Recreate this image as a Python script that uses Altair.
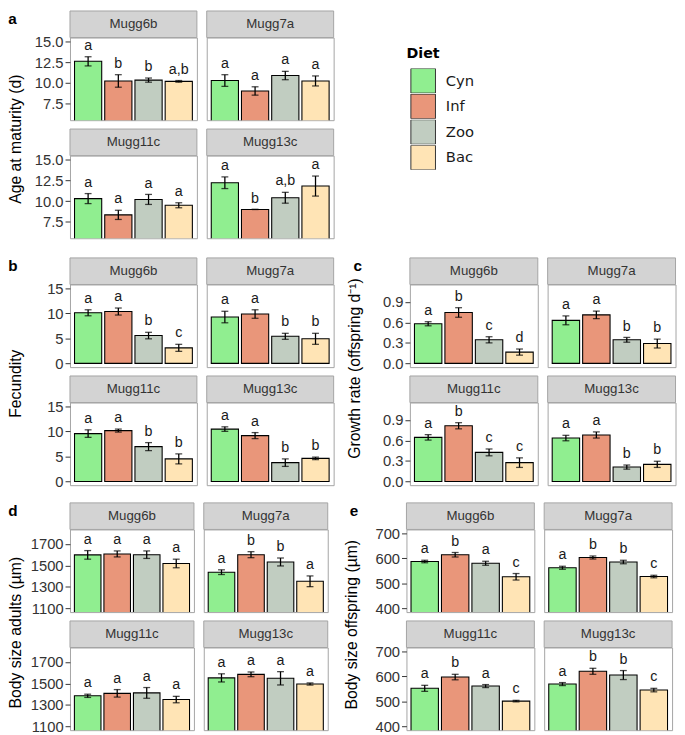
import altair as alt
import pandas as pd

STRAINS = ["Mugg6b", "Mugg7a", "Mugg11c", "Mugg13c"]
DIETS = ["Cyn", "Inf", "Zoo", "Bac"]
COLORS = ["#90EE90", "#E9967A", "#C1CDC1", "#FFE4B5"]

# a: Age at maturity (d)
age_mean = [[12.6, 10.25, 10.35, 10.2], [10.3, 9.05, 10.9, 10.25],
            [10.3, 8.35, 10.2, 9.5], [12.2, 9.0, 10.4, 11.8]]
age_se = [[0.55, 0.75, 0.25, 0.1], [0.7, 0.5, 0.5, 0.6],
          [0.6, 0.55, 0.6, 0.3], [0.7, 0.0, 0.65, 1.2]]
age_let = [["a", "b", "b", "a,b"], ["a", "a", "a", "a"],
           ["a", "a", "a", "a"], ["a", "b", "a,b", "a"]]

# b: Fecundity
fec_mean = [[10.1, 10.35, 5.55, 3.1], [9.25, 9.85, 5.4, 4.9],
            [9.55, 10.15, 6.95, 4.5], [10.45, 9.15, 3.75, 4.6]]
fec_se = [[0.6, 0.7, 0.65, 0.7], [1.15, 0.85, 0.6, 1.1],
          [0.75, 0.3, 0.8, 1.0], [0.45, 0.6, 0.75, 0.25]]
fec_let = [["a", "a", "b", "c"], ["a", "a", "b", "b"],
           ["a", "a", "b", "b"], ["a", "a", "b", "b"]]

# c: Growth rate
gr_mean = [[0.58, 0.745, 0.345, 0.165], [0.63, 0.71, 0.345, 0.29],
           [0.645, 0.815, 0.425, 0.275], [0.635, 0.68, 0.21, 0.25]]
gr_se = [[0.03, 0.07, 0.045, 0.045], [0.065, 0.055, 0.035, 0.065],
         [0.04, 0.045, 0.05, 0.07], [0.04, 0.045, 0.03, 0.045]]
gr_let = [["a", "b", "c", "d"], ["a", "a", "b", "b"],
          ["a", "b", "c", "c"], ["a", "a", "b", "b"]]

# d: Body size adults
ad_mean = [[1598, 1607, 1600, 1518], [1437, 1600, 1532, 1352],
           [1385, 1408, 1412, 1350], [1552, 1585, 1548, 1495]]
ad_se = [[40, 28, 35, 40], [22, 28, 37, 50],
         [15, 35, 50, 30], [38, 22, 62, 10]]
ad_let = [["a", "a", "a", "a"], ["a", "b", "b", "a"],
          ["a", "a", "a", "a"], ["a", "a", "a", "a"]]

# e: Body size offspring
off_mean = [[587, 614, 580, 526], [562, 603, 585, 527],
            [552, 597, 561, 501], [569, 620, 605, 545]]
off_se = [[5, 9, 8, 13], [6, 6, 7, 5],
          [12, 11, 6, 3], [6, 12, 18, 7]]
off_let = [["a", "b", "a", "c"], ["a", "b", "b", "c"],
           ["a", "b", "a", "c"], ["a", "b", "b", "c"]]

FONT = "Liberation Sans"
STRIP_FILL = "#d3d3d3"
BORDER = "#a3a3a3"
S = 27      # strip height
H = 84      # plot height
GAP = 9     # gap between facet rows

color_enc = alt.Color(
    "diet:N",
    scale=alt.Scale(domain=DIETS, range=COLORS),
    sort=DIETS,
    legend=alt.Legend(
        title="Diet", orient="none", legendX=342, legendY=10,
        titleFont="DejaVu Sans", titleFontSize=14.5, titleFontWeight="bold",
        titleColor="black", titlePadding=7,
        labelFont="DejaVu Sans", labelFontSize=15, labelColor="#1a1a1a",
        labelOffset=10, symbolType="square", symbolSize=625,
        symbolStrokeColor="#333333", symbolStrokeWidth=1, symbolOffset=4,
        rowPadding=1, clipHeight=25,
    ),
)


def make_df(means, ses, lets):
    rows = []
    for si, s in enumerate(STRAINS):
        for di, d in enumerate(DIETS):
            m = means[si][di]
            e = ses[si][di]
            rows.append({"strain": s, "diet": d, "mean": m,
                         "lo": m - e, "hi": m + e, "letter": lets[si][di]})
    return pd.DataFrame(rows)


def subplot(df, strain, domain, ticks, fmt, W, show_axis):
    d = df[df.strain == strain]
    base = alt.Chart(d)
    x = alt.X("diet:N", sort=DIETS,
              scale=alt.Scale(domain=DIETS, paddingInner=0.1, paddingOuter=0.15),
              axis=None)
    ysc = alt.Scale(domain=domain, nice=False, zero=False)
    if show_axis:
        yax = alt.Axis(values=ticks, format=fmt, title=None, domain=False,
                       grid=False, labelFont=FONT, labelFontSize=15,
                       labelColor="#333333", tickColor="#333333", tickSize=5,
                       tickWidth=1, labelPadding=2)
    else:
        yax = None

    def Y(f):
        return alt.Y(f, type="quantitative", scale=ysc, axis=yax)

    bars = base.mark_bar(stroke="black", strokeWidth=1.1, clip=True).encode(
        x=x, y=Y("mean"), color=color_enc)
    rule = base.mark_rule(color="black", strokeWidth=1.3).encode(
        x=x, y=Y("lo"), y2=alt.Y2("hi"))
    cap_lo = base.mark_tick(color="black", thickness=1.3, size=7).encode(x=x, y=Y("lo"))
    cap_hi = base.mark_tick(color="black", thickness=1.3, size=7).encode(x=x, y=Y("hi"))
    txt = base.mark_text(baseline="bottom", dy=-4, fontSize=14.5, font=FONT,
                         color="#1a1a1a").encode(x=x, y=Y("hi"), text="letter:N")
    sdf = pd.DataFrame({"strain": [strain]})
    strip_bg = alt.Chart(sdf).mark_rect(fill=STRIP_FILL, stroke=BORDER, strokeWidth=1).encode(
        x=alt.value(0), x2=alt.value(W), y=alt.value(-S), y2=alt.value(0))
    strip_tx = alt.Chart(sdf).mark_text(fontSize=13.5, font=FONT, color="#333333",
                                        fontWeight="normal",
                                        baseline="middle", align="center").encode(
        x=alt.value(W / 2), y=alt.value(-S / 2), text="strain:N")
    return alt.layer(bars, rule, cap_lo, cap_hi, txt, strip_bg, strip_tx).properties(
        width=W, height=H)


def panel(letter, ytitle, df, domain, ticks, fmt, W, toff, tdx, ldx):
    colL = alt.vconcat(
        subplot(df, "Mugg6b", domain, ticks, fmt, W, True),
        subplot(df, "Mugg11c", domain, ticks, fmt, W, True),
        spacing=S + GAP, bounds="flush")
    colR = alt.vconcat(
        subplot(df, "Mugg7a", domain, ticks, fmt, W, False),
        subplot(df, "Mugg13c", domain, ticks, fmt, W, False),
        spacing=S + GAP, bounds="flush")
    inner = alt.hconcat(
        colL, colR, spacing=8,
        title=alt.TitleParams(ytitle, orient="left", anchor="middle", angle=270,
                              offset=toff, dx=tdx, fontSize=16, font=FONT,
                              fontWeight="normal", color="black"))
    outer = alt.vconcat(
        inner,
        title=alt.TitleParams(letter, orient="top", anchor="start", offset=-18,
                              fontSize=15.5, font=FONT, fontWeight="bold",
                              color="black", dx=ldx))
    return outer


df_a = make_df(age_mean, age_se, age_let)
df_b = make_df(fec_mean, fec_se, fec_let)
df_c = make_df(gr_mean, gr_se, gr_let)
df_d = make_df(ad_mean, ad_se, ad_let)
df_e = make_df(off_mean, off_se, off_let)

pa = panel("a", "Age at maturity (d)", df_a, [5.55, 15.45], [7.5, 10, 12.5, 15], ".1f",
           129, 10, -15, 0)
pb = panel("b", "Fecundity", df_b, [-0.75, 15.75], [0, 5, 10, 15], "d",
           129, 22.5, -10.5, 0)
pc = panel("c", "Growth rate (offspring d\u207B\u00B9)", df_c, [-0.055, 1.155],
           [0, 0.3, 0.6, 0.9], ".1f", 130, 19, 5, 6)
pd_ = panel("d", "Body size adults (\u00B5m)", df_d, [1065, 1835],
            [1100, 1300, 1500, 1700], "d", 126, 6, -14.5, 0)
pe = panel("e", "Body size offspring (\u00B5m)", df_e, [385, 715],
           [400, 500, 600, 700], "d", 130, 15, -6.5, 6)

top_two = alt.vconcat(
    pa,
    alt.hconcat(pb, pc, spacing=12.5),
    spacing=18,
)

chart = alt.vconcat(
    top_two,
    alt.hconcat(pd_, pe, spacing=15),
    spacing=12,
    padding={"top": -4, "left": 0, "right": 0, "bottom": 0},
).configure_view(stroke=BORDER, strokeWidth=1)

chart.save("out.html", embed_options={"renderer": "svg", "actions": False})
